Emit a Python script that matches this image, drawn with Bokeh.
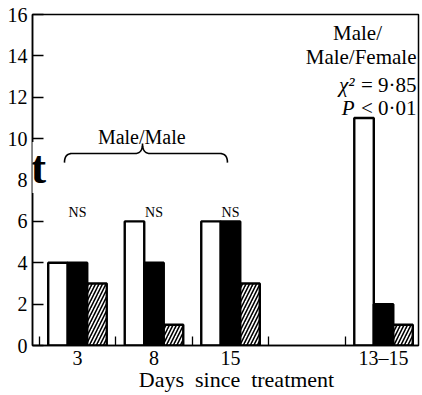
import numpy as np
from bokeh.plotting import figure
from bokeh.models import Range1d, FixedTicker, Label
from bokeh.core.properties import value
from bokeh.embed import file_html
from bokeh.resources import INLINE

# ---- data ----
group_labels = ["3", "8", "15", "13–15"]
group_pos = [0, 1, 2, 4]
white_vals = [4, 6, 6, 11]
black_vals = [4, 4, 6, 2]
hatch_vals = [3, 1, 3, 1]
ns_labels = ["NS", "NS", "NS"]
y_ticks = [0, 2, 4, 6, 8, 10, 12, 14, 16]

FONT = "Liberation Serif"
bw = 0.255
NB = "\u00a0"

p = figure(width=422, height=395, output_backend="svg", toolbar_location=None,
           x_range=Range1d(-0.588, 4.457), y_range=Range1d(0, 16),
           min_border_left=32, min_border_right=4, min_border_top=14, min_border_bottom=50)
p.background_fill_color = "white"
p.border_fill_color = "white"
p.grid.visible = False
p.outline_line_color = "black"
p.outline_line_width = 1.5

# bars
xs = np.array(group_pos, dtype=float)
p.vbar(x=xs - bw, top=white_vals, width=bw, bottom=0, fill_color="white", line_color="black", line_width=2.4)
p.vbar(x=xs, top=black_vals, width=bw, bottom=0, fill_color="black", line_color="black", line_width=2.4)
p.vbar(x=xs + bw, top=hatch_vals, width=bw, bottom=0, fill_color="white", line_color="black", line_width=2.4,
       hatch_pattern="right_diagonal_line", hatch_color="black", hatch_scale=7, hatch_weight=1.6)

# axes
ya = p.yaxis[0]
ya.ticker = FixedTicker(ticks=y_ticks, minor_ticks=[])
ya.major_tick_in = 11
ya.major_tick_out = 0
ya.minor_tick_in = 0
ya.minor_tick_out = 0
ya.axis_line_color = "black"
ya.axis_line_width = 1.5
ya.major_tick_line_color = "black"
ya.major_tick_line_width = 1.5
ya.major_label_text_font = FONT
ya.major_label_text_font_size = "20px"
ya.major_label_text_color = "black"
ya.major_label_standoff = 5

xa = p.xaxis[0]
xa.ticker = FixedTicker(ticks=group_pos, minor_ticks=[-0.5, 0.5, 1.5, 2.5, 3.5])
xa.major_label_overrides = {float(k): v for k, v in zip(group_pos, group_labels)}
xa.major_tick_in = 0
xa.major_tick_out = 0
xa.minor_tick_in = 9
xa.minor_tick_out = 0
xa.minor_tick_line_color = "black"
xa.minor_tick_line_width = 1.3
xa.axis_line_color = "black"
xa.axis_line_width = 1.5
xa.major_label_text_font = FONT
xa.major_label_text_font_size = "20px"
xa.major_label_text_color = "black"
xa.major_label_standoff = 1
xa.axis_label = NB * 4 + "Days" + NB * 2 + "since" + NB * 2 + "treatment"
xa.axis_label_text_font = FONT
xa.axis_label_text_font_size = "22px"
xa.axis_label_text_font_style = "normal"
xa.axis_label_text_color = "black"
xa.axis_label_standoff = -5

# stray "t" over the y axis
p.add_layout(Label(x=-0.588, y=8.6, x_offset=6, text="t", text_align="center",
                   text_baseline="alphabetic", text_font=FONT, text_font_size="46px",
                   text_color="black", text_font_style="bold", background_fill_color="white"))

# NS labels
p.text(x=group_pos[:3], y=[6.42] * 3, text=ns_labels, text_font=value(FONT), text_font_size="14px",
       text_color="black", text_align="center", text_baseline="alphabetic")

# brace
x0, x1, xc = -0.17, 1.96, 0.85
yb, yl, yt = 8.84, 9.28, 9.76
t = np.linspace(0, 1, 20)
def curve(xa_, ya_, xb, yb_, xcorner, ycorner):
    return ((1 - t) ** 2 * xa_ + 2 * (1 - t) * t * xcorner + t ** 2 * xb,
            (1 - t) ** 2 * ya_ + 2 * (1 - t) * t * ycorner + t ** 2 * yb_)
bx, by = [], []
cx, cy = curve(x0, yb, x0 + 0.1, yl, x0, yl); bx += list(cx); by += list(cy)
cx, cy = curve(xc - 0.1, yl, xc, yt, xc, yl); bx += list(cx); by += list(cy)
cx, cy = curve(xc, yt, xc + 0.1, yl, xc, yl); bx += list(cx); by += list(cy)
cx, cy = curve(x1 - 0.1, yl, x1, yb, x1, yl); bx += list(cx); by += list(cy)
p.line(bx, by, line_color="black", line_width=1.6)

p.text(x=[0.84], y=[10.07], text=["Male/Male"], text_font=value(FONT), text_font_size="20px",
       text_color="black", text_align="center", text_baseline="alphabetic")

# top-right annotation
TR = dict(text_font=value(FONT), text_font_size="21px", text_color="black", text_baseline="alphabetic")
p.text(x=[3.66], y=[15.1], text=["Male/"], text_align="center", **TR)
p.text(x=[4.457], y=[13.95], x_offset=[-2], text=["Male/Female"], text_align="right", **TR)
p.text(x=[4.457], y=[12.6], x_offset=[-2], text=["=" + NB + "9·85"], text_align="right", **TR)
p.text(x=[4.457], y=[12.6], x_offset=[-64], text=["χ²"], text_align="right", text_font_style="italic", **TR)
p.text(x=[4.457], y=[11.5], x_offset=[-2], text=["<" + NB + "0·01"], text_align="right", **TR)
p.text(x=[4.457], y=[11.5], x_offset=[-64], text=["P"], text_align="right", text_font_style="italic", **TR)

open("out.html", "w").write(file_html(p, INLINE))
